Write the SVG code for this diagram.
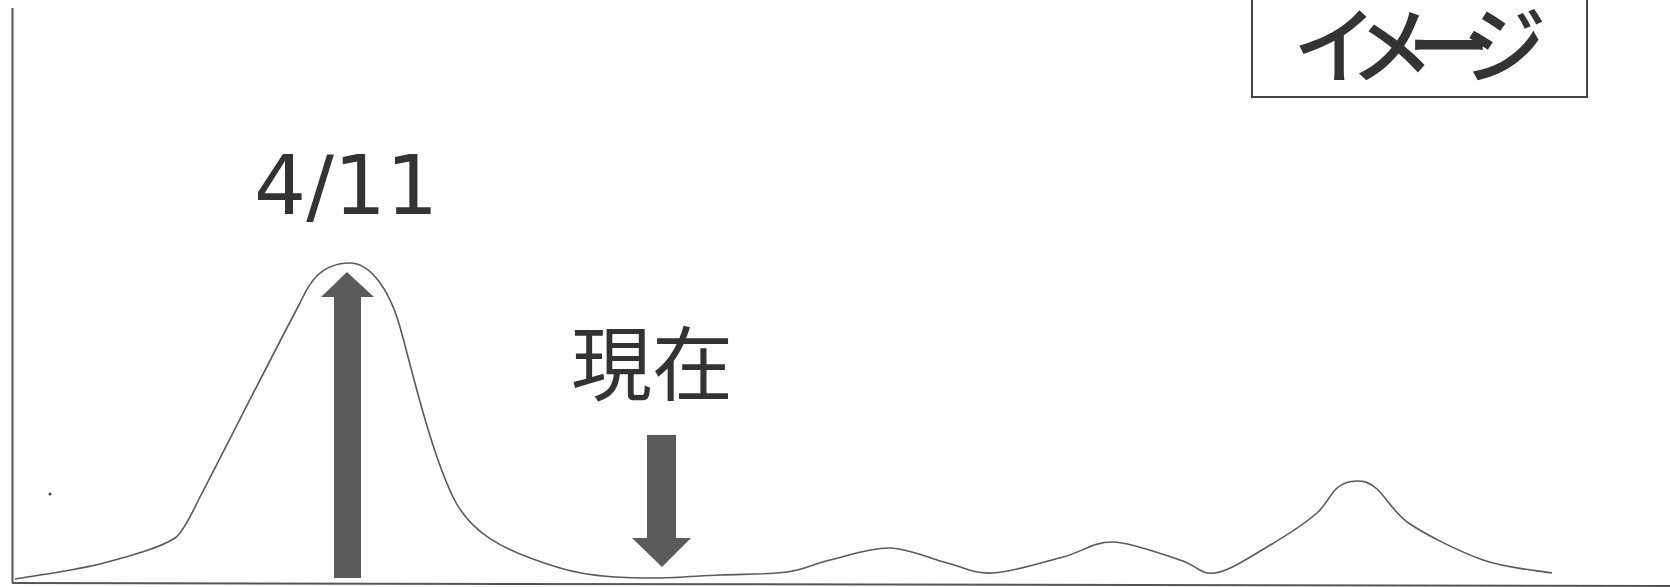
<svg xmlns="http://www.w3.org/2000/svg" width="1670" height="587" viewBox="0 0 1670 587">
<style>
.axis{stroke:#555;stroke-width:2;fill:none}
.curve{stroke:#5a5a5a;stroke-width:1.6;fill:none;stroke-linejoin:round}
.arrow{fill:#5b5b5b}
.lbl{fill:#333;font-family:"DejaVu Sans","Noto Sans",sans-serif}
.jp{fill:#333;font-family:"Noto Sans CJK JP","Noto Sans",sans-serif}
</style>
<rect width="1670" height="587" fill="#fff"/>
<g id="axes">
<line class="axis" x1="12.5" y1="8" x2="12.5" y2="583"/>
<line class="axis" x1="12" y1="583" x2="1670" y2="586"/>
<circle cx="50" cy="494" r="1.5" fill="#444"/>
</g>
<g id="curve">
<path class="curve" d="M15,579 C40,575 70,571 100,564 C130,556 160,548 175,538 C184,532 194,508.6 200,497 C230,439 275,350 300,303 C306,291 316,263 350,263 C368,263 388,285 400,327 C410,362 430,450 453,497 C470,532 500,550 560,568 C593,578 630,578 660,578 C676.7,577.7 698.8,576 720,575 C741.2,574 768.7,574.5 787,572 C805.3,569.5 812.8,564 830,560 C847.2,556 870.5,547.5 890,548 C909.5,548.5 929.8,558.8 947,563 C964.2,567.2 973.7,574 993,573 C1012.3,572 1043,562.2 1063,557 C1083,551.8 1093.5,541.5 1113,542 C1132.5,542.5 1163,554.8 1180,560 C1197,565.2 1200.5,575.2 1215,573 C1229.5,570.8 1250,557 1267,547 C1284,537 1305.7,522.7 1317,513 C1327,504 1330,494 1337,488 C1343,483 1350,481 1357,481 C1364,481 1369,482 1377,489 C1386,497 1392,510 1407,522 C1424.7,534.2 1458.8,551.5 1483,560 C1507.2,568.5 1540.5,570.8 1552,573"/>
</g>
<g id="connectors">
<polygon id="arrow-peak" class="arrow" points="334,578 334,297 321,297 347,272 374,297 361,297 361,578"/>
<polygon id="arrow-now" class="arrow" points="647,435 676,435 676,538 691,538 662,567 632,538 647,538"/>
</g>
<g id="label-peak">
<text class="lbl" x="254" y="214" font-size="82">4/11</text>
</g>
<g id="label-now">
<text class="jp" x="571" y="394" font-size="81">現在</text>
</g>
<g id="box-image">
<rect x="1252" y="-5" width="335" height="102" fill="#fff" stroke="#444" stroke-width="2"/>
<text class="jp" x="1293" y="77" font-size="84" font-weight="500" letter-spacing="-27">イメージ</text>
</g>
</svg>
